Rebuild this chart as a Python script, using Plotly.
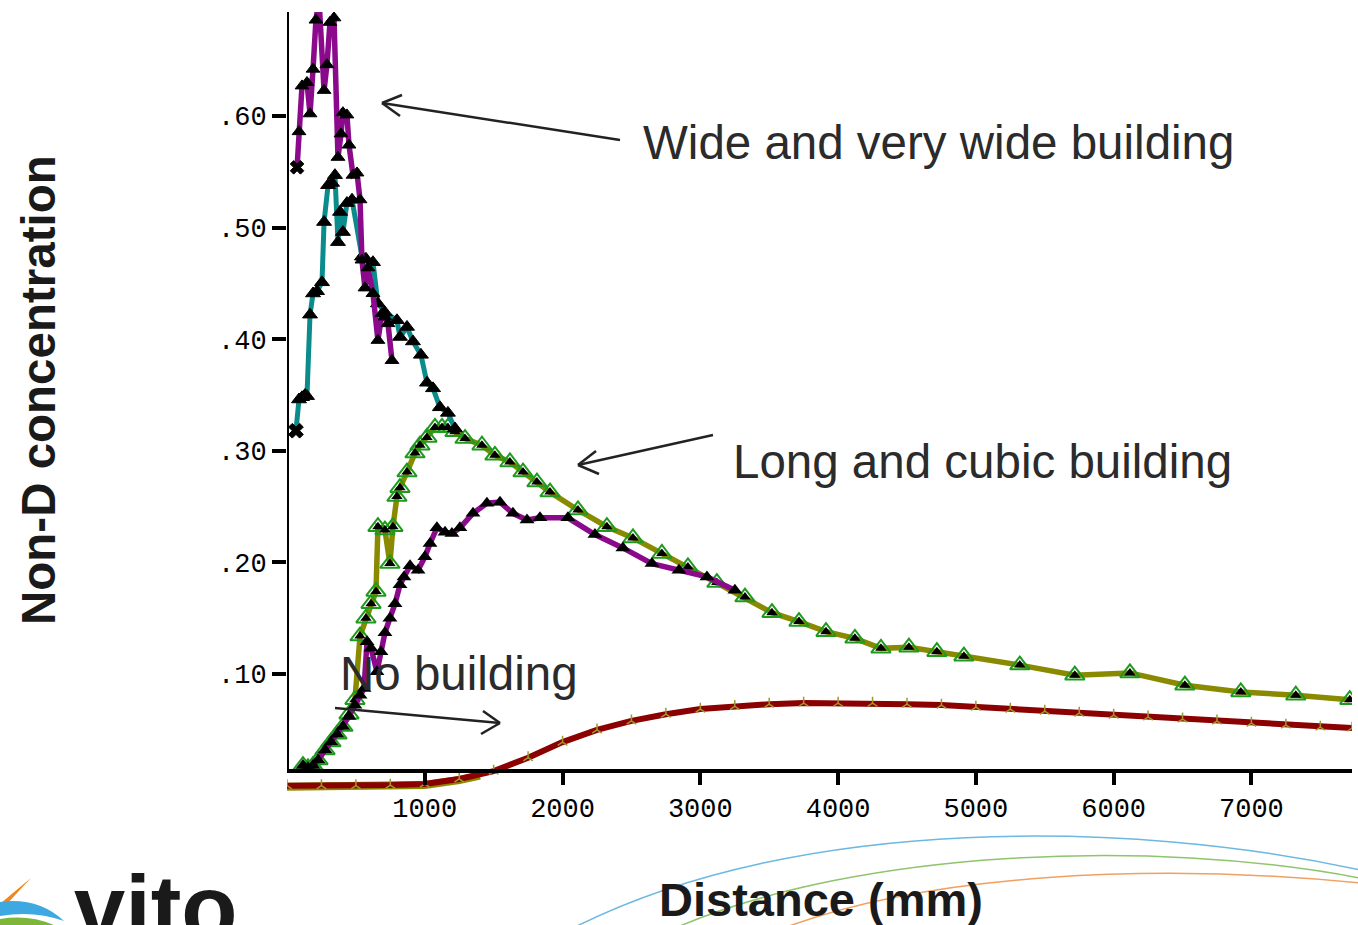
import plotly.graph_objects as go

W, H = 1358, 925
L, R, T, B = 287, 6, 12, 133
PW, PH = W - L - R, H - T - B
X_MAX = 7730
Y_MIN, Y_MAX = -0.0057, 0.6932

# ---------------- data ----------------
wide_x = [73, 87, 109, 145, 167, 189, 210, 232, 269, 290, 312, 341, 370, 392, 406, 435,
          450, 479, 508, 530, 544, 566, 588, 624, 660, 689, 711, 733, 762]
wide_y = [0.554, 0.586, 0.627, 0.630, 0.602, 0.642, 0.686, 0.705, 0.623, 0.646, 0.684,
          0.688, 0.563, 0.584, 0.603, 0.601, 0.574, 0.547, 0.549, 0.525, 0.471, 0.446,
          0.464, 0.441, 0.399, 0.423, 0.420, 0.414, 0.381]

vwide_x = [65, 87, 109, 131, 145, 167, 189, 218, 254, 269, 298, 327, 348, 370, 385, 406,
           435, 472, 544, 573, 624, 660, 711, 798, 820, 871, 914, 972, 1016, 1060, 1110,
           1168, 1219]
vwide_y = [0.318, 0.346, 0.348, 0.350, 0.349, 0.422, 0.441, 0.443, 0.451, 0.505, 0.538,
           0.540, 0.547, 0.487, 0.514, 0.496, 0.522, 0.525, 0.474, 0.472, 0.469, 0.432,
           0.424, 0.417, 0.402, 0.411, 0.398, 0.386, 0.361, 0.356, 0.339, 0.334, 0.320]

cubic_x = [116, 152, 189, 225, 276, 319, 363, 406, 450, 493, 530, 559, 581, 610, 653, 682,
           711, 747, 784, 820, 849, 893, 951, 1001, 1038, 1088, 1147, 1197, 1255, 1350,
           1451, 1546, 1640, 1742, 1836, 2039, 2235, 2438, 2649, 2845, 3048, 3251]
cubic_y = [0.018, 0.016, 0.018, 0.023, 0.032, 0.039, 0.046, 0.053, 0.062, 0.072, 0.081,
           0.087, 0.129, 0.123, 0.102, 0.120, 0.137, 0.150, 0.163, 0.180, 0.187, 0.197,
           0.193, 0.205, 0.217, 0.231, 0.227, 0.226, 0.231, 0.244, 0.253, 0.254, 0.244,
           0.238, 0.240, 0.240, 0.225, 0.213, 0.199, 0.193, 0.187, 0.175]

long_x = [116, 152, 189, 225, 276, 319, 363, 406, 450, 493, 530, 573, 610, 646, 660, 711,
          747, 769, 798, 820, 871, 929, 965, 1016, 1074, 1125, 1168, 1219, 1292, 1415,
          1509, 1618, 1713, 1814, 1909, 2112, 2322, 2511, 2721, 2910, 3120, 3324, 3520,
          3716, 3912, 4122, 4311, 4514, 4717, 4913, 5319, 5718, 6118, 6517, 6923, 7322,
          7714]
long_y = [0.018, 0.016, 0.018, 0.023, 0.032, 0.039, 0.046, 0.053, 0.064, 0.077, 0.134,
          0.150, 0.163, 0.174, 0.232, 0.229, 0.199, 0.232, 0.259, 0.267, 0.281, 0.298,
          0.305, 0.312, 0.321, 0.321, 0.321, 0.317, 0.311, 0.305, 0.296, 0.290, 0.281,
          0.272, 0.263, 0.247, 0.232, 0.222, 0.208, 0.196, 0.182, 0.169, 0.155, 0.147,
          0.138, 0.132, 0.123, 0.124, 0.120, 0.116, 0.108, 0.099, 0.101, 0.090, 0.084,
          0.081, 0.077]

nob_x = [0, 250, 500, 750, 1000, 1250, 1500, 1750, 2000, 2250, 2500, 2750, 3000, 3250,
         3500, 3750, 4000, 4250, 4500, 4750, 5000, 5250, 5500, 5750, 6000, 6250, 6500,
         6750, 7000, 7250, 7500, 7730]
nob_y = [0.0, 0.0, 0.0, 0.0005, 0.0015, 0.006, 0.013, 0.025, 0.039, 0.050, 0.058, 0.064,
         0.0686, 0.071, 0.073, 0.074, 0.074, 0.074, 0.073, 0.0722, 0.0704, 0.0686, 0.0668,
         0.065, 0.0632, 0.0615, 0.0597, 0.0579, 0.056, 0.0543, 0.0525, 0.0516]

nob2_x = [0, 250, 500, 750, 1000, 1250, 1400]
nob2_y = [-0.001, -0.001, -0.001, -0.0005, 0.0005, 0.005, 0.009]

x_ticks = [1000, 2000, 3000, 4000, 5000, 6000, 7000]
x_ticktext = ["1000", "2000", "3000", "4000", "5000", "6000", "7000"]
y_ticks = [0.1, 0.2, 0.3, 0.4, 0.5, 0.6]
y_ticktext = [".10", ".20", ".30", ".40", ".50", ".60"]
X_AXIS_AT = 0.0131

PURPLE = "#8B0A8B"
TEAL = "#0A8C8C"
OLIVE = "#8A8A00"
DARKRED = "#8B0000"
GREEN = "#1E9A1E"


def P(px, py):
    """pixel position -> paper coordinates (for decorations only)"""
    return (px - L) / PW, (H - B - py) / PH


def syms(n):
    return ["x"] + ["triangle-up"] * (n - 1)


fig = go.Figure()

# long building (olive)
fig.add_trace(go.Scatter(x=long_x, y=long_y, mode="lines+markers",
                         line=dict(color=OLIVE, width=5.5),
                         marker=dict(symbol="triangle-up-open", size=17, color=GREEN,
                                     line=dict(color=GREEN, width=2))))
fig.add_trace(go.Scatter(x=long_x, y=long_y, mode="markers",
                         marker=dict(symbol="triangle-up", size=10, color="black")))
# cubic building (purple)
fig.add_trace(go.Scatter(x=cubic_x, y=cubic_y, mode="lines+markers",
                         line=dict(color=PURPLE, width=5.5),
                         marker=dict(symbol="triangle-up", size=13, color="black")))
# very wide building (teal)
fig.add_trace(go.Scatter(x=vwide_x, y=vwide_y, mode="lines+markers",
                         line=dict(color=TEAL, width=5),
                         marker=dict(symbol=syms(len(vwide_x)), size=13, color="black",
                                     line=dict(color="black", width=1))))
# wide building (purple)
fig.add_trace(go.Scatter(x=wide_x, y=wide_y, mode="lines+markers",
                         line=dict(color=PURPLE, width=5.5),
                         marker=dict(symbol=syms(len(wide_x)), size=12, color="black",
                                     line=dict(color="black", width=1))))
# no building
fig.add_trace(go.Scatter(x=nob2_x, y=nob2_y, mode="lines",
                         line=dict(color=OLIVE, width=8)))
fig.add_trace(go.Scatter(x=nob_x, y=nob_y, mode="lines+markers",
                         line=dict(color=DARKRED, width=6),
                         marker=dict(symbol="y-up-open", size=8, color="#9C9A2A",
                                     line=dict(color="#9C9A2A", width=1.5))))

shapes = []
# y axis line (stops at the x axis)
shapes.append(dict(type="line", xref="x", yref="y", x0=0, x1=0, y0=X_AXIS_AT, y1=Y_MAX,
                   line=dict(color="black", width=4)))

# arrows
def arrow(tail, head, w1, w2):
    out = []
    for a, b in [(tail, head), (w1, head), (w2, head)]:
        x0, y0 = P(*a)
        x1, y1 = P(*b)
        out.append(dict(type="line", xref="paper", yref="paper", x0=x0, y0=y0, x1=x1, y1=y1,
                        line=dict(color="#222222", width=2.5)))
    return out

shapes += arrow((620, 140), (382, 103), (402, 95), (400, 116))
shapes += arrow((713, 435), (578, 465), (596, 451), (599, 474))
shapes += arrow((335, 708), (500, 723), (483, 711), (481, 734))

# decorative arcs at the bottom right
def bez(p0, p1, p2, p3, color):
    pts = [P(*p) for p in (p0, p1, p2, p3)]
    path = "M {:.4f},{:.4f} C {:.4f},{:.4f} {:.4f},{:.4f} {:.4f},{:.4f}".format(
        pts[0][0], pts[0][1], pts[1][0], pts[1][1], pts[2][0], pts[2][1], pts[3][0], pts[3][1])
    return dict(type="path", xref="paper", yref="paper", path=path,
                line=dict(color=color, width=1.5), layer="below")

shapes.append(bez((577, 926), (800, 815), (1130, 820), (1360, 870), "#6DB8E0"))
shapes.append(bez((680, 926), (860, 850), (1150, 838), (1360, 878), "#8EC46C"))
shapes.append(bez((789, 926), (930, 875), (1150, 862), (1360, 883), "#F0A060"))

# logo swoosh bottom left
def fillpath(cmds, color):
    parts = []
    for c in cmds:
        if isinstance(c, str):
            parts.append(c)
        else:
            x, y = P(*c)
            parts.append("{:.4f},{:.4f}".format(x, y))
    return dict(type="path", xref="paper", yref="paper", path=" ".join(parts),
                fillcolor=color, line=dict(width=0), layer="below")

shapes.append(fillpath(["M", (31, 878), "Q", (14, 896), (0, 912), "L", (0, 904), "Q", (14, 892), (31, 878), "Z"], "#F0871E"))
shapes.append(fillpath(["M", (0, 902), "Q", (38, 897), (64, 921), "Q", (34, 910), (0, 916), "Z"], "#3EA9E0"))
shapes.append(fillpath(["M", (0, 919), "Q", (30, 914), (56, 926), "L", (0, 926), "Z"], "#7DB63A"))

annotations = []
TXT = dict(family="Liberation Sans, Arial, sans-serif", size=47.5, color="#2B2B2B")
for txt, px, py in [("Wide and very wide building", 641, 143),
                    ("Long and cubic building", 731, 462),
                    ("No building", 338, 673)]:
    x, y = P(px, py)
    annotations.append(dict(text=txt, x=x, y=y, xref="paper", yref="paper", xanchor="left",
                            yanchor="middle", showarrow=False, font=TXT))

x, y = P(38, 390)
annotations.append(dict(text="<b>Non-D concentration</b>", x=x, y=y, xref="paper", yref="paper",
                        textangle=-90, showarrow=False, xanchor="center", yanchor="middle",
                        font=dict(family="Liberation Sans, Arial, sans-serif", size=47.5, color="#1A1A1A")))
x, y = P(821, 899)
annotations.append(dict(text="<b>Distance (mm)</b>", x=x, y=y, xref="paper", yref="paper",
                        showarrow=False, xanchor="center", yanchor="middle",
                        font=dict(family="Liberation Sans, Arial, sans-serif", size=47, color="#1A1A1A")))
x, y = P(72, 855)
annotations.append(dict(text="<b>vito</b>", x=x, y=y, xref="paper", yref="paper",
                        showarrow=False, xanchor="left", yanchor="top",
                        font=dict(family="Liberation Sans, Arial, sans-serif", size=92, color="#1A1A1A")))

MONO = dict(family="Liberation Mono, Courier New, monospace", size=27, color="black")

fig.update_layout(
    width=W, height=H,
    margin=dict(l=L, r=R, t=T, b=B, pad=0),
    paper_bgcolor="white", plot_bgcolor="white",
    showlegend=False,
    shapes=shapes,
    annotations=annotations,
    xaxis=dict(range=[0, X_MAX], anchor="free", position=(X_AXIS_AT - Y_MIN) / (Y_MAX - Y_MIN),
               showline=True, linecolor="black", linewidth=4, showgrid=False, zeroline=False,
               ticks="outside", ticklen=12, tickwidth=4, tickcolor="black",
               tickvals=x_ticks, ticktext=x_ticktext, tickfont=MONO),
    yaxis=dict(range=[Y_MIN, Y_MAX], showline=False, showgrid=False, zeroline=False,
               ticks="outside", ticklen=14, tickwidth=4, tickcolor="black",
               tickvals=y_ticks, ticktext=y_ticktext, tickfont=MONO),
)

fig.write_html("out.html")
